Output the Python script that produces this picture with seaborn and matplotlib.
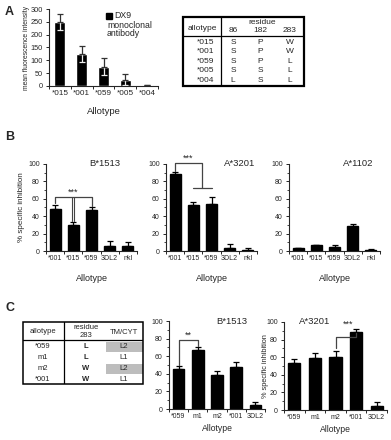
import numpy as np
import matplotlib
matplotlib.use('Agg')
import matplotlib.pyplot as plt
import seaborn as sns
from matplotlib.patches import Rectangle

# ---- data ----
a_labels = ['*015', '*001', '*059', '*005', '*004']
a_mfi = [250, 126, 75, 25, 2]
a_err = [30, 31, 33, 23, 0]

b_labels = ['*001', '*015', '*059', '3DL2', 'nkl']
b1513_vals = [48, 30, 47, 6, 6]
b1513_err = [5, 3, 3, 6, 4]
a3201_vals = [88, 53, 54, 4, 1]
a3201_err = [3, 3, 8, 4, 2]
a1102_vals = [3, 6.5, 4.5, 29, 1.5]
a1102_err = [0, 0, 2, 2, 1]

c_labels = ['*059', 'm1', 'm2', '*001', '3DL2']
c_b1513_vals = [46, 67, 39, 48, 4]
c_b1513_err = [3, 4, 4, 5, 4]
c_a3201_vals = [53, 59, 60, 89, 4.5]
c_a3201_err = [5, 6, 7, 3, 4.5]

tab_a_allotype = ['*015', '*001', '*059', '*005', '*004']
tab_a_positions = ['86', '182', '283']
tab_a_residues = [['S', 'P', 'W'], ['S', 'P', 'W'], ['S', 'P', 'L'],
                  ['S', 'S', 'L'], ['L', 'S', 'L']]

tab_c_allotype = ['*059', 'm1', 'm2', '*001']
tab_c_res283 = ['L', 'L', 'W', 'W']
tab_c_tmcyt = ['L2', 'L1', 'L2', 'L1']

sns.set_style('ticks')
plt.rcParams['font.family'] = ['Liberation Sans', 'DejaVu Sans']

W, H = 391, 440
fig = plt.figure(figsize=(W / 100, H / 100), dpi=100)
TICK = 5.0


def px_axes(x0, y0, x1, y1):
    return fig.add_axes([x0 / W, 1 - y1 / H, (x1 - x0) / W, (y1 - y0) / H])


def style_bar_axes(ax, ymax, ystep, minor=None, fs=TICK):
    sns.despine(ax=ax)
    ax.set_xlim(-0.5, 4.5)
    ax.set_ylim(0, ymax)
    ax.set_yticks(np.arange(0, ymax + 1, ystep))
    if minor:
        ax.set_yticks(np.arange(0, ymax + 1, minor), minor=True)
    ax.set_xticks(np.arange(-0.5, 5, 1), minor=True)
    ax.tick_params(axis='x', which='major', length=0, labelsize=fs, pad=3)
    ax.tick_params(axis='x', which='minor', length=2.5, width=0.7, direction='out')
    ax.tick_params(axis='y', which='major', length=2.5, width=0.7, labelsize=fs, pad=2)
    ax.tick_params(axis='y', which='minor', length=1.5, width=0.6)
    for s in ['left', 'bottom']:
        ax.spines[s].set_linewidth(0.8)
    ax.set_ylabel('')


def bars(ax, labels, vals, errs):
    sns.barplot(x=labels, y=vals, color='black', width=0.6, errorbar=None,
                ax=ax, saturation=1, edgecolor='black')
    x = np.arange(len(vals))
    ax.errorbar(x, vals, yerr=[np.zeros(len(errs)), errs], fmt='none',
                ecolor='black', elinewidth=0.9, capsize=2, capthick=0.9, clip_on=False)


def xlabel(ax, ytop, fs=6.5):
    ax.set_xlabel('Allotype', fontsize=fs)
    ax.xaxis.set_label_coords(0.5, ytop)


# ---- panel A ----
axA = px_axes(49, 9, 158, 86)
sns.barplot(x=a_labels, y=a_mfi, color='black', width=0.5, errorbar=None,
            ax=axA, saturation=1)
xa = np.arange(len(a_mfi))
axA.errorbar(xa, a_mfi, yerr=[a_err, np.zeros(5)], fmt='none', ecolor='#eeeeee',
             elinewidth=0.9, capsize=2, capthick=0.9)
axA.errorbar(xa, a_mfi, yerr=[np.zeros(5), a_err], fmt='none', ecolor='#333333',
             elinewidth=0.9, capsize=2, capthick=0.9)
style_bar_axes(axA, 300, 50, fs=5.3)
axA.tick_params(axis='x', which='major', labelsize=5.9)
axA.set_ylabel('mean fluorescence intensity', fontsize=4.9)
axA.yaxis.set_label_coords(-0.175, 0.5)
xlabel(axA, -0.27, 6.8)
fig.patches.append(Rectangle((106 / W, 1 - 19 / H), 6 / W, 6 / H,
                             transform=fig.transFigure, color='black'))
fig.text(114 / W, 1 - 16 / H, 'DX9', fontsize=6.3, va='center')
fig.text(107 / W, 1 - 25 / H, 'monoclonal', fontsize=6.3, va='center')
fig.text(107 / W, 1 - 34 / H, 'antibody', fontsize=6.3, va='center')

# table A
tx0, ty0, tx1, ty1 = 183, 17, 304, 86
axT = px_axes(tx0, ty0, tx1, ty1)
axT.set_xlim(tx0, tx1)
axT.set_ylim(ty1, ty0)
axT.axis('off')
axT.add_patch(Rectangle((tx0, ty0), tx1 - tx0, ty1 - ty0, fill=False, lw=1.6,
                        edgecolor='black', clip_on=False))
axT.plot([221, 221], [ty0, ty1], color='black', lw=0.9)
axT.plot([tx0, tx1], [36, 36], color='black', lw=0.9)
TF = 6.0
axT.text(202, 28, 'allotype', fontsize=TF, ha='center', va='center')
axT.text(262, 22, 'residue', fontsize=TF, ha='center', va='center')
col_x = [233, 260, 290]
for cx, p in zip(col_x, tab_a_positions):
    axT.text(cx, 31, p, fontsize=TF, ha='center', va='center')
for i, (al, res) in enumerate(zip(tab_a_allotype, tab_a_residues)):
    ry = 42 + i * 9.6
    axT.text(206, ry, al, fontsize=TF, ha='center', va='center')
    for cx, r in zip(col_x, res):
        axT.text(cx, ry, r, fontsize=TF, ha='center', va='center')

# ---- panel B ----
axB1 = px_axes(46, 164, 137, 251)
bars(axB1, b_labels, b1513_vals, b1513_err)
style_bar_axes(axB1, 100, 20, 10)
axB1.set_ylabel('% specific inhibition', fontsize=5.8)
axB1.yaxis.set_label_coords(-0.23, 0.5)
xlabel(axB1, -0.265)
axB1.text(0.65, 1.0, 'B*1513', transform=axB1.transAxes, fontsize=6.8,
          ha='center', va='center')
axB1.plot([0, 0, 2, 2], [55, 62, 62, 52], color='#444444', lw=0.9, clip_on=False)
axB1.plot([0.95, 0.95], [62, 34], color='#444444', lw=0.8)
axB1.plot([1.05, 1.05], [62, 34], color='#444444', lw=0.8)
axB1.text(1, 62.5, '***', fontsize=6.5, ha='center', va='bottom')

axB2 = px_axes(166, 164, 257, 251)
bars(axB2, b_labels, a3201_vals, a3201_err)
style_bar_axes(axB2, 100, 20, 10)
xlabel(axB2, -0.265)
axB2.text(0.81, 1.0, 'A*3201', transform=axB2.transAxes, fontsize=6.8,
          ha='center', va='center')
axB2.plot([0, 0, 1.5, 1.5], [92, 101, 101, 72], color='#444444', lw=0.9, clip_on=False)
axB2.plot([1, 2], [72, 72], color='#444444', lw=0.9)
axB2.text(0.7, 101.5, '***', fontsize=6.5, ha='center', va='bottom')

axB3 = px_axes(289, 164, 380, 251)
bars(axB3, b_labels, a1102_vals, a1102_err)
style_bar_axes(axB3, 100, 20, 10)
xlabel(axB3, -0.265)
axB3.text(0.76, 1.0, 'A*1102', transform=axB3.transAxes, fontsize=6.8,
          ha='center', va='center')

# ---- panel C ----
cx0, cy0, cx1, cy1 = 23, 322, 143, 384
axTC = px_axes(cx0, cy0, cx1, cy1)
axTC.set_xlim(cx0, cx1)
axTC.set_ylim(cy1, cy0)
axTC.axis('off')
for i in (0, 2):
    axTC.add_patch(Rectangle((106, 341.5 + i * 11), 37, 10, color='#bdbdbd', lw=0))
axTC.add_patch(Rectangle((cx0, cy0), cx1 - cx0, cy1 - cy0, fill=False, lw=1.1,
                         edgecolor='black', clip_on=False))
axTC.plot([64, 64], [cy0, cy1], color='black', lw=0.9)
axTC.plot([cx0, cx1], [340, 340], color='black', lw=0.9)
CF = 5.5
axTC.text(43, 331, 'allotype', fontsize=CF, ha='center', va='center')
axTC.text(86, 327, 'residue', fontsize=CF, ha='center', va='center')
axTC.text(86, 335, '283', fontsize=CF, ha='center', va='center')
axTC.text(124, 332, 'TM/CYT', fontsize=CF, ha='center', va='center')
for i, (al, r, t) in enumerate(zip(tab_c_allotype, tab_c_res283, tab_c_tmcyt)):
    ry = 346.5 + i * 11
    axTC.text(43, ry, al, fontsize=CF, ha='center', va='center')
    axTC.text(86, ry, r, fontsize=CF, ha='center', va='center', fontweight='bold')
    axTC.text(124, ry, t, fontsize=CF, ha='center', va='center')

axC1 = px_axes(169, 321, 265, 409)
bars(axC1, c_labels, c_b1513_vals, c_b1513_err)
style_bar_axes(axC1, 100, 20, 10)
xlabel(axC1, -0.17, 6.2)
axC1.text(0.65, 1.0, 'B*1513', transform=axC1.transAxes, fontsize=6.8,
          ha='center', va='center')
axC1.plot([0, 0, 1, 1], [50, 78, 78, 72], color='#444444', lw=0.9)
axC1.text(0.5, 78.5, '**', fontsize=6.5, ha='center', va='bottom')

axC2 = px_axes(284, 322, 387, 410)
bars(axC2, c_labels, c_a3201_vals, c_a3201_err)
style_bar_axes(axC2, 100, 20, 10)
axC2.set_ylabel('% specific inhibition', fontsize=5.3)
axC2.yaxis.set_label_coords(-0.145, 0.5)
xlabel(axC2, -0.17, 6.2)
axC2.text(0.3, 1.0, 'A*3201', transform=axC2.transAxes, fontsize=6.8,
          ha='center', va='center')
axC2.plot([2, 2, 3, 3], [70, 83, 83, 88], color='#444444', lw=0.9)
axC2.text(2.6, 92, '***', fontsize=6.5, ha='center', va='bottom')

# panel letters
for lab, y in [('A', 12), ('B', 137), ('C', 308)]:
    fig.text(5 / W, 1 - y / H, lab, fontsize=9, fontweight='bold', va='center')

fig.savefig('out.png', dpi=100)
